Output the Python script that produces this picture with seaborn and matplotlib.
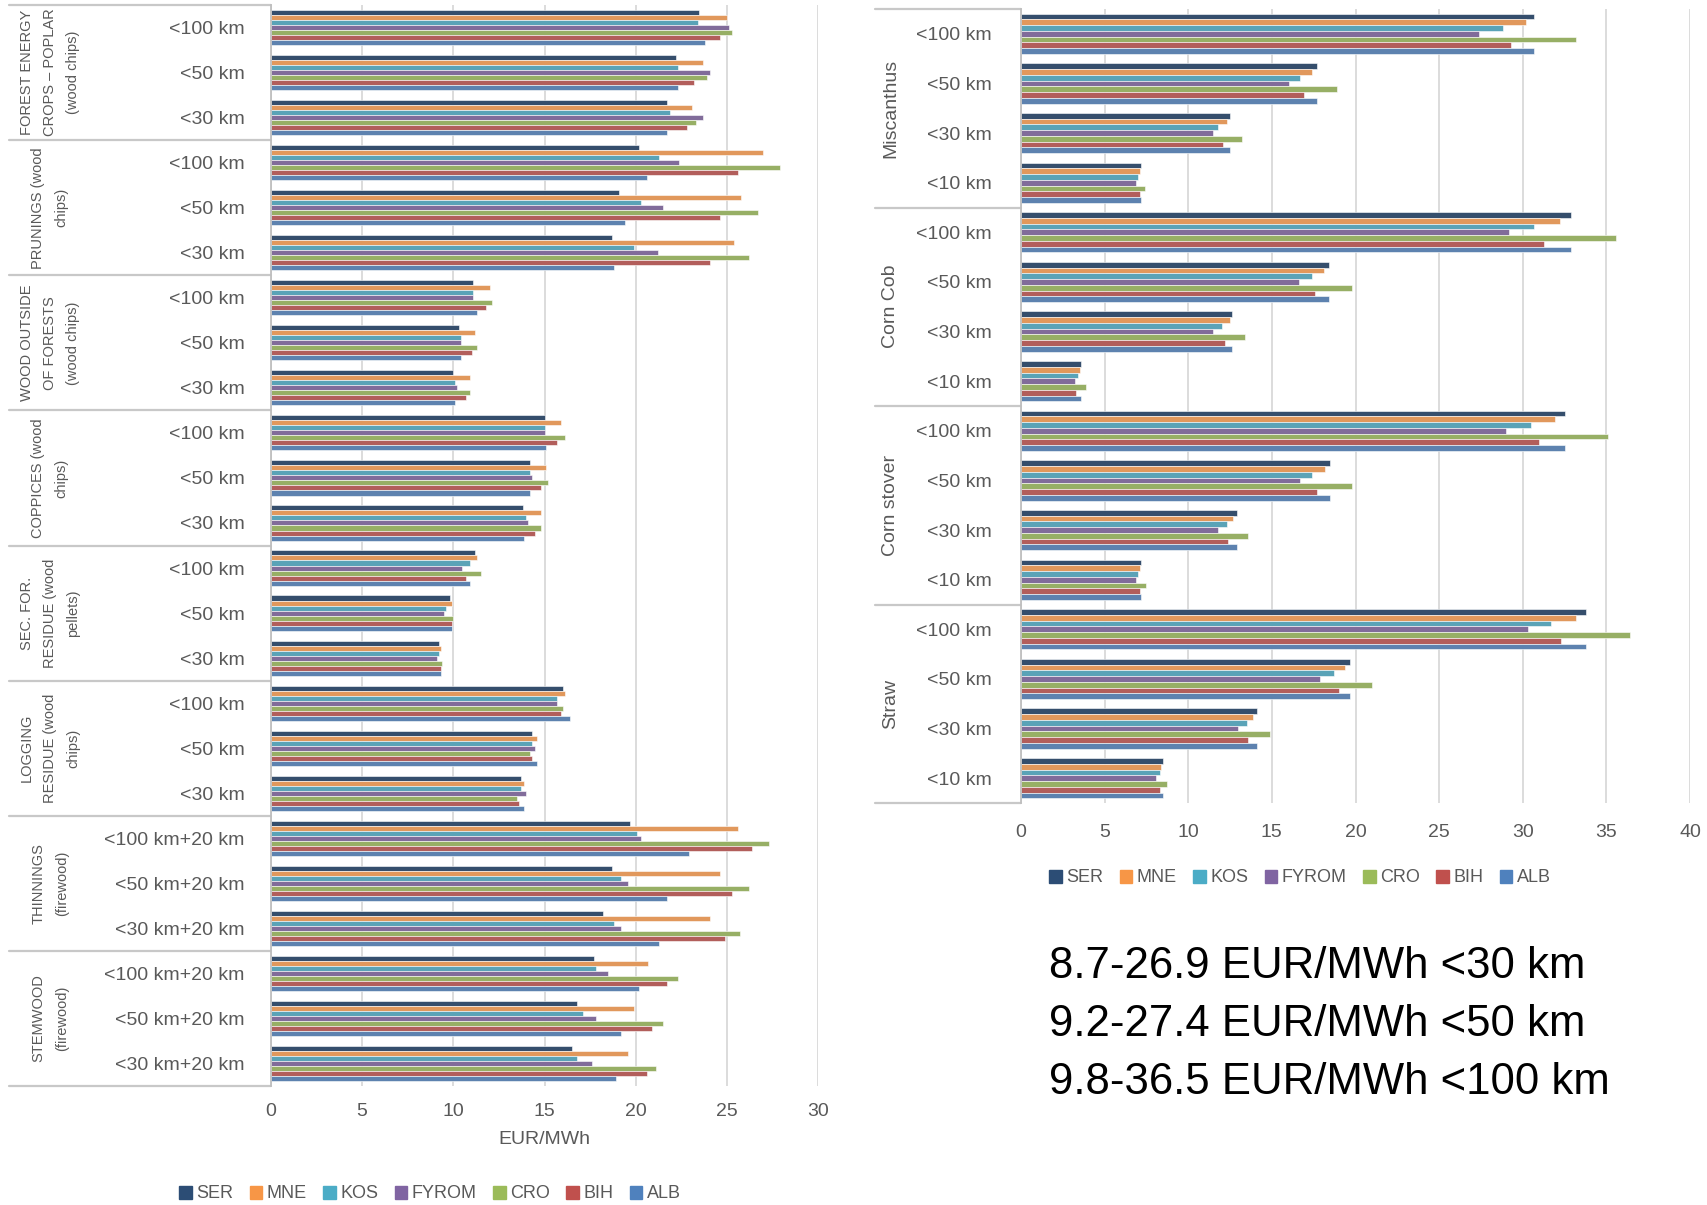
import numpy as np
import pandas as pd
import seaborn as sns
import matplotlib.pyplot as plt
import matplotlib.transforms as mtransforms

# ---- data (EUR/MWh) ----
countries = ["SER", "MNE", "KOS", "FYROM", "CRO", "BIH", "ALB"]
colors = ["#2C4D75", "#F79646", "#4BACC6", "#8064A2", "#9BBB59", "#C0504D", "#4F81BD"]

left_groups = ["FOREST ENERGY\nCROPS \u2013 POPLAR\n(wood chips)", "PRUNINGS (wood\nchips)",
               "WOOD OUTSIDE\nOF FORESTS\n(wood chips)", "COPPICES (wood\nchips)",
               "SEC. FOR.\nRESIDUE (wood\npellets)", "LOGGING\nRESIDUE (wood\nchips)",
               "THINNINGS\n(firewood)", "STEMWOOD\n(firewood)"]
left_dists = [["<100 km", "<50 km", "<30 km"]] * 6 + \
             [["<100 km+20 km", "<50 km+20 km", "<30 km+20 km"]] * 2

SER_left = [23.5, 22.2, 21.7, 20.2, 19.1, 18.7, 11.1, 10.3, 10.0, 15.0, 14.2, 13.8,
            11.2, 9.8, 9.2, 16.0, 14.3, 13.7, 19.7, 18.7, 18.2, 17.7, 16.8, 16.5]
MNE_left = [25.0, 23.7, 23.1, 27.0, 25.8, 25.4, 12.0, 11.2, 10.9, 15.9, 15.1, 14.8,
            11.3, 9.9, 9.3, 16.1, 14.6, 13.9, 25.6, 24.6, 24.1, 20.7, 19.9, 19.6]
KOS_left = [23.4, 22.3, 21.9, 21.3, 20.3, 19.9, 11.1, 10.4, 10.1, 15.0, 14.2, 14.0,
            10.9, 9.6, 9.2, 15.7, 14.3, 13.7, 20.1, 19.2, 18.8, 17.8, 17.1, 16.8]
FYROM_left = [25.1, 24.1, 23.7, 22.4, 21.5, 21.2, 11.1, 10.4, 10.2, 15.0, 14.3, 14.1,
              10.5, 9.5, 9.1, 15.7, 14.5, 14.0, 20.3, 19.6, 19.2, 18.5, 17.8, 17.6]
CRO_left = [25.3, 23.9, 23.3, 27.9, 26.7, 26.2, 12.1, 11.3, 10.9, 16.1, 15.2, 14.8,
            11.5, 10.0, 9.4, 16.0, 14.2, 13.5, 27.3, 26.2, 25.7, 22.3, 21.5, 21.1]
BIH_left = [24.6, 23.2, 22.8, 25.6, 24.6, 24.1, 11.8, 11.0, 10.7, 15.7, 14.8, 14.5,
            10.7, 9.9, 9.3, 15.9, 14.3, 13.6, 26.4, 25.3, 24.9, 21.7, 20.9, 20.6]
ALB_left = [23.8, 22.3, 21.7, 20.6, 19.4, 18.8, 11.3, 10.4, 10.1, 15.1, 14.2, 13.9,
            10.9, 9.9, 9.3, 16.4, 14.6, 13.9, 22.9, 21.7, 21.3, 20.2, 19.2, 18.9]

right_groups = ["Miscanthus", "Corn Cob", "Corn stover", "Straw"]
right_dists = [["<100 km", "<50 km", "<30 km", "<10 km"]] * 4

SER_right = [30.7, 17.7, 12.5, 7.2, 32.9, 18.4, 12.6, 3.6, 32.5, 18.5, 12.9, 7.2, 33.8, 19.7, 14.1, 8.5]
MNE_right = [30.2, 17.4, 12.3, 7.1, 32.2, 18.1, 12.5, 3.5, 31.9, 18.2, 12.7, 7.1, 33.2, 19.4, 13.9, 8.4]
KOS_right = [28.8, 16.7, 11.8, 7.0, 30.7, 17.4, 12.0, 3.4, 30.5, 17.4, 12.3, 7.0, 31.7, 18.7, 13.5, 8.3]
FYROM_right = [27.4, 16.0, 11.5, 6.9, 29.2, 16.6, 11.5, 3.2, 29.0, 16.7, 11.8, 6.9, 30.3, 17.9, 13.0, 8.1]
CRO_right = [33.2, 18.9, 13.2, 7.4, 35.6, 19.8, 13.4, 3.9, 35.1, 19.8, 13.6, 7.5, 36.4, 21.0, 14.9, 8.7]
BIH_right = [29.3, 16.9, 12.1, 7.1, 31.3, 17.6, 12.2, 3.3, 31.0, 17.7, 12.4, 7.1, 32.3, 19.0, 13.6, 8.3]
ALB_right = [30.7, 17.7, 12.5, 7.2, 32.9, 18.4, 12.6, 3.6, 32.5, 18.5, 12.9, 7.2, 33.8, 19.7, 14.1, 8.5]

summary_lines = ["8.7-26.9 EUR/MWh <30 km",
                 "9.2-27.4 EUR/MWh <50 km",
                 "9.8-36.5 EUR/MWh <100 km"]

GRAY = "#595959"


def to_long(groups, dists, series):
    """Builds a long dataframe: one row per (category, country)."""
    keys, labels = [], []
    for g, ds in zip(groups, dists):
        for d in ds:
            keys.append(g + "|" + d)
            labels.append(d)
    rows = []
    for c, vals in zip(countries, series):
        for k, v in zip(keys, vals):
            rows.append({"cat": k, "country": c, "value": v})
    return pd.DataFrame(rows), keys, labels


def draw_panel(ax, groups, dists, series, xmax, width, sep_x, label_x, ypad,
               group_fs, group_ls):
    df, keys, labels = to_long(groups, dists, series)
    sns.barplot(data=df, x="value", y="cat", hue="country", order=keys,
                hue_order=countries, palette=colors, orient="h", width=width,
                edgecolor="white", linewidth=0.4, legend=False, ax=ax)
    ax.set_xlim(0, xmax)
    ax.set_xticks(np.arange(0, xmax + 1, 5))
    ax.set_yticks(range(len(keys)))
    ax.set_yticklabels(labels)
    ax.set_ylabel("")
    ax.set_xlabel("")
    ax.grid(axis="x", color="#D9D9D9", linewidth=1.3)
    ax.set_axisbelow(True)
    for s in ["top", "right", "bottom"]:
        ax.spines[s].set_visible(False)
    ax.spines["left"].set_color("#BFBFBF")
    ax.spines["left"].set_linewidth(1.3)
    ax.tick_params(axis="y", length=0, pad=ypad, labelsize=14, labelcolor=GRAY)
    ax.tick_params(axis="x", length=0, pad=12, labelsize=14, labelcolor=GRAY)

    # group separators and rotated group names left of the category labels
    tr = mtransforms.blended_transform_factory(ax.transAxes, ax.transData)
    trf = mtransforms.blended_transform_factory(ax.figure.transFigure, ax.transData)
    n = len(dists[0])
    for i in range(len(groups) + 1):
        y = i * n - 0.5
        ax.plot([sep_x, 0], [y, y], transform=tr, color="#C8C8C8", lw=1.6,
                clip_on=False, scalex=False, scaley=False)
    for i, g in enumerate(groups):
        ax.text(label_x, i * n + (n - 1) / 2, g, transform=trf, rotation=90,
                ha="center", va="center", multialignment="center",
                fontsize=group_fs, color=GRAY, linespacing=group_ls)
    ax.set_ylim(len(keys) - 0.5, -0.5)


sns.set_style("white")
plt.rcParams["font.family"] = ["Liberation Sans Narrow", "Liberation Sans", "DejaVu Sans"]

fig = plt.figure(figsize=(17.08, 12.05), dpi=100)

ax1 = fig.add_axes([271 / 1708, 1 - 1086 / 1205, 547 / 1708, 1081 / 1205])
draw_panel(ax1, left_groups, left_dists,
           [SER_left, MNE_left, KOS_left, FYROM_left, CRO_left, BIH_left, ALB_left],
           30, 0.78, (9 - 271) / 547, 50 / 1708, 19, 10.5, 1.85)
ax1.set_xlabel("EUR/MWh", fontsize=14, color=GRAY, labelpad=8)

ax2 = fig.add_axes([1021 / 1708, 1 - 803 / 1205, 669 / 1708, 794 / 1205])
draw_panel(ax2, right_groups, right_dists,
           [SER_right, MNE_right, KOS_right, FYROM_right, CRO_right, BIH_right, ALB_right],
           40, 0.81, (875 - 1021) / 669, 891 / 1708, 21, 14, 1.2)
ax2.tick_params(axis="x", pad=15)

# legends
handles = [plt.Rectangle((0, 0), 1, 1, color=c) for c in colors]
for cx, cy in [(430 / 1708, 1 - 1194 / 1205), (1300 / 1708, 1 - 878 / 1205)]:
    fig.legend(handles, countries, loc="center", bbox_to_anchor=(cx, cy), ncol=7,
               frameon=False, fontsize=13, labelcolor=GRAY, handlelength=0.7,
               handleheight=0.7, handletextpad=0.25, columnspacing=0.9)

# summary text
for i, line in enumerate(summary_lines):
    fig.text(1049 / 1708, 1 - (966 + 58 * i) / 1205, line, ha="left", va="center",
             fontsize=31.5, color="black")

fig.savefig("out.png", dpi=100)
